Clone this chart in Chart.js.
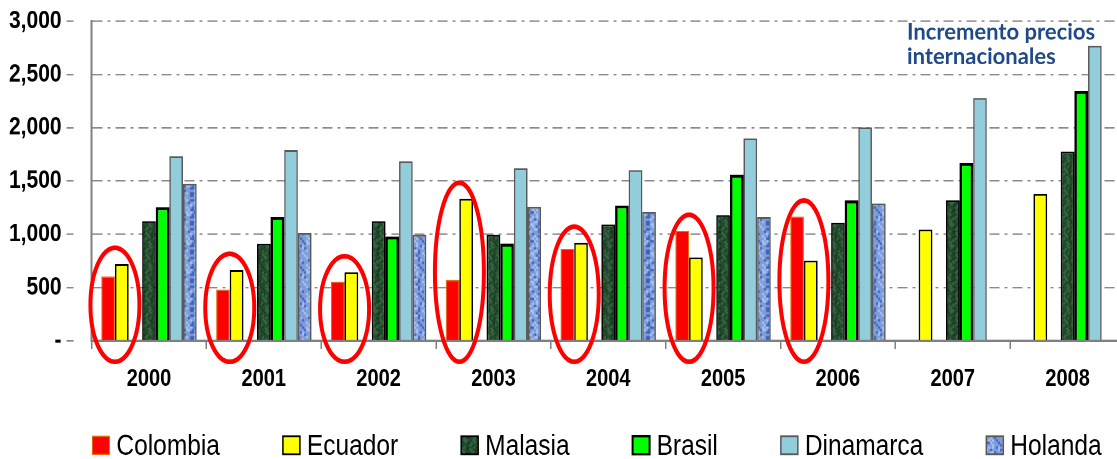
<!DOCTYPE html>
<html>
<head>
<meta charset="utf-8">
<script src="https://cdn.jsdelivr.net/npm/chart.js@4.4.1/dist/chart.umd.min.js"></script>
<style>
  html, body { margin: 0; padding: 0; background: #fff; overflow: hidden; }
  #wrap { width: 1117px; height: 459px; overflow: hidden; }
  /* the source picture is stretched vertically, so is the canvas */
  #stretch { width: 1126px; height: 383px; transform: scaleY(1.2); transform-origin: 0 0; }
  canvas { display: block; }
</style>
</head>
<body>
<div id="wrap"><div id="stretch"><canvas id="chart" width="1126" height="383"></canvas></div></div>
<script>
const years = ['2000', '2001', '2002', '2003', '2004', '2005', '2006', '2007', '2008'];
const colombia  = [605, 482, 555, 571, 862, 1031, 1166, null, null];
const ecuador   = [721, 665, 642, 1332, 919, 781, 752, 1044, 1379];
const malasia   = [1122, 909, 1122, 994, 1091, 1179, 1107, 1317, 1777];
const brasil    = [1254, 1160, 978, 912, 1270, 1558, 1317, 1668, 2342];
const dinamarca = [1733, 1790, 1683, 1620, 1602, 1900, 2003, 2279, 2768];
const holanda   = [1473, 1013, 994, 1257, 1210, 1160, 1288, null, null];
const yTicks = [0, 500, 1000, 1500, 2000, 2500, 3000];
const noteLines = ['Incremento precios', 'internacionales'];

const STRETCH = 1.2;
const canvas = document.getElementById('chart');
const mainCtx = canvas.getContext('2d');

// mottled texture, like the picture fills in the original
function makeTexture(base, light, dark, cell, hi, lo) {
    const n = 12;
    const c = document.createElement('canvas');
    c.width = n * cell; c.height = n * cell;
    const g = c.getContext('2d');
    g.fillStyle = base;
    g.fillRect(0, 0, c.width, c.height);
    for (let y = 0; y < n; y++) {
        for (let x = 0; x < n; x++) {
            const v = Math.sin(x * 1.7 + Math.sin(y * 0.9) * 2.3) * Math.cos(y * 1.1 - x * 0.6);
            if (v > hi) { g.fillStyle = light; g.fillRect(x * cell, y * cell, cell, cell); }
            else if (v < lo) { g.fillStyle = dark; g.fillRect(x * cell, y * cell, cell, cell); }
        }
    }
    return mainCtx.createPattern(c, 'repeat');
}

const malasiaFill = makeTexture('#244f2e', '#4b7b53', '#15361e', 1.5, 0.5, -0.55);
const holandaFill = makeTexture('#7d9ddb', '#abc3f0', '#3f62b8', 2, 0.45, -0.45);

// red rings round Colombia + Ecuador
const ringPlugin = {
    id: 'rings',
    afterDatasetsDraw(chart) {
        const { ctx } = chart;
        const y = chart.scales.y;
        const m0 = chart.getDatasetMeta(0);
        const m1 = chart.getDatasetMeta(1);
        const zero = y.getPixelForValue(0);
        ctx.save();
        ctx.strokeStyle = '#ff0000';
        ctx.lineWidth = 4;
        colombia.forEach((v, i) => {
            if (v == null) return;
            const cx = (m0.data[i].x + m1.data[i].x) / 2;
            const top = y.getPixelForValue(Math.max(v, ecuador[i])) - 13.5;
            const bottom = zero + 17.5;
            ctx.beginPath();
            ctx.ellipse(cx, (top + bottom) / 2, 24.5, (bottom - top) / 2, 0, 0, Math.PI * 2);
            ctx.stroke();
        });
        ctx.restore();
    }
};

// note text, mostly without the vertical stretch
const notePlugin = {
    id: 'note',
    afterDraw(chart) {
        const ctx = chart.ctx;
        ctx.save();
        ctx.scale(1, 1.05 / STRETCH);
        ctx.font = 'bold 22px Lato, "Open Sans", sans-serif';
        ctx.fillStyle = '#1f4a86';
        ctx.textBaseline = 'alphabetic';
        ctx.fillText(noteLines[0], 907, 37.6);
        ctx.fillText(noteLines[1], 907, 61);
        ctx.restore();
    }
};

// legend at the bottom, wide gaps like the original
const legendPlugin = {
    id: 'bottomLegend',
    afterDraw(chart) {
        const ctx = chart.ctx;
        const items = chart.data.datasets.filter(d => d.label);
        const box = 17, boxH = 15, textGap = 7, gap = 63;
        ctx.save();
        ctx.font = '24.5px "Liberation Sans", Arial, sans-serif';
        const widths = items.map(d => box + textGap + ctx.measureText(d.label).width);
        const total = widths.reduce((s, w) => s + w, 0) + gap * (items.length - 1);
        let x = 597 - total / 2;
        const cy = 371;
        ctx.textBaseline = 'middle';
        items.forEach((d, i) => {
            ctx.fillStyle = d.backgroundColor;
            ctx.fillRect(x, cy - boxH / 2, box, boxH);
            ctx.lineWidth = Math.min(d.borderWidth, 2);
            ctx.strokeStyle = d.borderColor;
            ctx.strokeRect(x, cy - boxH / 2, box, boxH);
            ctx.fillStyle = '#000';
            ctx.fillText(d.label, x + box + textGap, cy + 1);
            x += widths[i] + gap;
        });
        ctx.restore();
    }
};

new Chart(canvas, {
    type: 'bar',
    data: {
        labels: years,
        datasets: [
            { label: 'Colombia', data: colombia, backgroundColor: '#ff0000', borderColor: '#e46c0a', borderWidth: 1 },
            { label: 'Ecuador', data: ecuador, backgroundColor: '#ffff00', borderColor: '#000000', borderWidth: 1.5 },
            { label: '', data: years.map(() => null) },
            { label: 'Malasia', data: malasia, backgroundColor: malasiaFill, borderColor: '#000000', borderWidth: 1.5 },
            { label: 'Brasil', data: brasil, backgroundColor: '#00ff00', borderColor: '#000000', borderWidth: 2.5 },
            { label: 'Dinamarca', data: dinamarca, backgroundColor: '#92cddc', borderColor: '#595959', borderWidth: 1.5 },
            { label: 'Holanda', data: holanda, backgroundColor: holandaFill, borderColor: '#595959', borderWidth: 1.5 }
        ]
    },
    options: {
        responsive: false,
        animation: false,
        devicePixelRatio: 2,
        layout: { padding: { left: 4, right: 1, top: 17, bottom: 42 } },
        datasets: { bar: { categoryPercentage: 0.83, barPercentage: 1 } },
        plugins: {
            legend: { display: false },
            tooltip: { enabled: false }
        },
        scales: {
            x: {
                grid: { display: true, drawOnChartArea: false, drawTicks: true, tickLength: 7, color: '#808080', lineWidth: 1.5, offset: true },
                border: { display: true, color: '#808080', width: 2 },
                ticks: { color: '#000', padding: 13, font: { family: '"Liberation Sans", Arial, sans-serif', size: 20, weight: 'bold' } }
            },
            y: {
                min: 0,
                max: 3000,
                afterBuildTicks: axis => { axis.ticks = yTicks.map(v => ({ value: v })); },
                grid: { color: '#8a8a8a', lineWidth: 1.3, tickLength: 25, drawTicks: true, tickColor: '#8a8a8a', tickBorderDash: [7, 40] },
                border: { display: true, color: '#808080', width: 2, dash: [10, 5, 3, 5] },
                ticks: {
                    color: '#000',
                    padding: 5,
                    font: { family: '"Liberation Sans", Arial, sans-serif', size: 21, weight: 'bold' },
                    callback: v => v === 0 ? '-' : v.toLocaleString('en-US')
                }
            }
        }
    },
    plugins: [ringPlugin, notePlugin, legendPlugin]
});
</script>
</body>
</html>
